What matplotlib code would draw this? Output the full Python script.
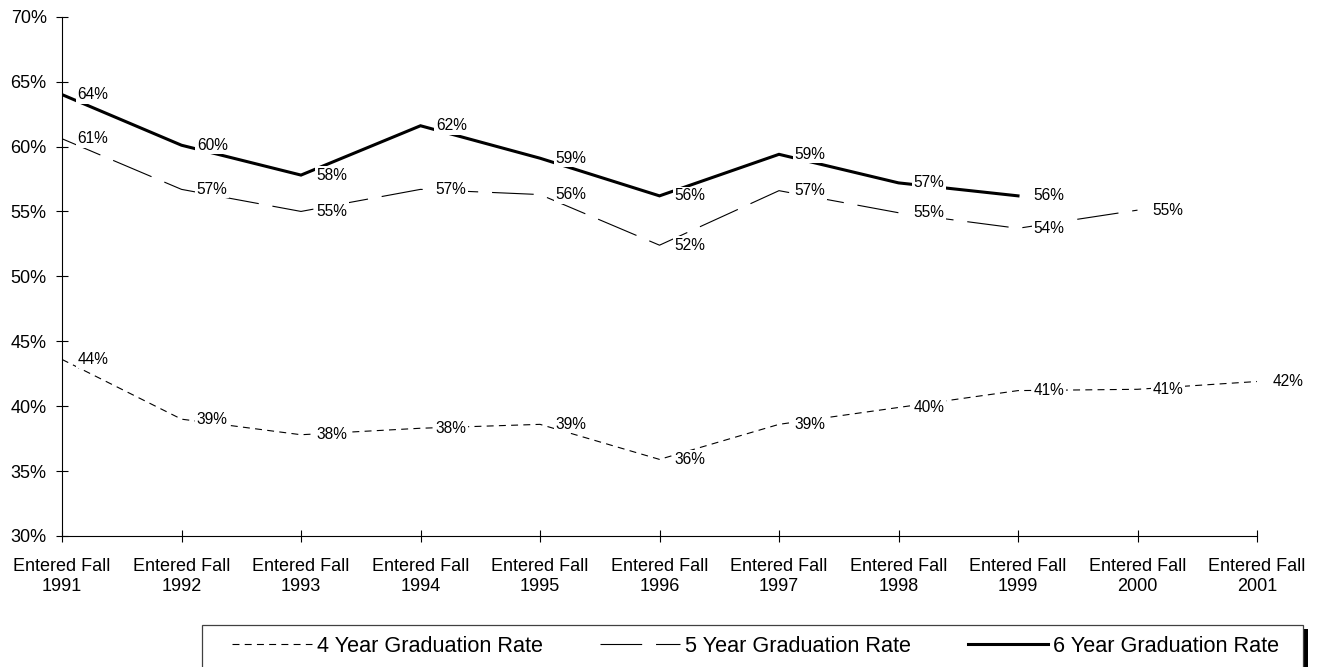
import matplotlib
matplotlib.use('Agg')
import matplotlib.pyplot as plt
from matplotlib.patches import Rectangle
import numpy as np

plt.rcParams['font.family'] = ['Liberation Sans', 'DejaVu Sans']
plt.rcParams['lines.scale_dashes'] = False

years = [1991, 1992, 1993, 1994, 1995, 1996, 1997, 1998, 1999, 2000, 2001]
xlabels = ['Entered Fall\n%d' % y for y in years]

# graduation rates (%) by entering cohort
grad4 = [43.6, 39.0, 37.8, 38.3, 38.6, 35.9, 38.6, 39.9, 41.2, 41.3, 41.9]
grad5 = [60.6, 56.7, 55.0, 56.7, 56.3, 52.4, 56.6, 54.9, 53.7, 55.1]
grad6 = [64.0, 60.1, 57.8, 61.6, 59.1, 56.2, 59.4, 57.2, 56.2]

series = [
    ('4 Year Graduation Rate', grad4, dict(lw=0.8, dashes=(5, 3.8))),
    ('5 Year Graduation Rate', grad5, dict(lw=0.8, dashes=(30, 10))),
    ('6 Year Graduation Rate', grad6, dict(lw=2.2)),
]

W, H = 1324, 667
fig = plt.figure(figsize=(W / 100, H / 100), dpi=100)
ax = fig.add_axes([62 / W, (H - 536) / H, (1257 - 62) / W, (536 - 16.7) / H])

handles = []
for name, vals, style in series:
    xs = np.arange(len(vals))
    ln, = ax.plot(xs, vals, color='black', label=name, solid_joinstyle='miter', **style)
    handles.append(ln)
    for x, v in zip(xs, vals):
        ax.annotate('%d%%' % int(v + 0.5), (x, v), xytext=(11, 0), textcoords='offset points',
                    ha='left', va='center', fontsize=11.2, zorder=5,
                    bbox=dict(boxstyle='square,pad=0.1', fc='white', ec='none'))

ax.set_xlim(0, len(years) - 1)
ax.set_ylim(30, 70)
ax.set_xticks(range(len(years)))
ax.set_xticklabels(xlabels)
ax.set_yticks(range(30, 71, 5))
ax.set_yticklabels(['%d%%' % t for t in range(30, 71, 5)])
ax.tick_params(axis='both', direction='inout', length=8, width=0.8, labelsize=13)
ax.tick_params(axis='y', pad=7)
ax.tick_params(axis='x', pad=12)
for s in ['top', 'right']:
    ax.spines[s].set_visible(False)
for s in ['left', 'bottom']:
    ax.spines[s].set_linewidth(0.8)

# legend box with offset shadow
fig.patches.append(Rectangle((207 / W, (H - 629 - 80) / H), (1303 - 202) / W, 80 / H,
                             transform=fig.transFigure, fc='black', ec='none', zorder=0))
fig.patches.append(Rectangle((202 / W, (H - 625 - 80) / H), (1303 - 202) / W, 80 / H,
                             transform=fig.transFigure, fc='white', ec='#404040', lw=0.9, zorder=1))
fig.legend(handles=handles, loc='center left', bbox_to_anchor=(232 / W, (H - 646) / H),
           ncol=3, frameon=False, fontsize=15.6, handlelength=3.7, handletextpad=0.23,
           columnspacing=2.63, borderpad=0, borderaxespad=0)

fig.savefig('out.png', dpi=100)
